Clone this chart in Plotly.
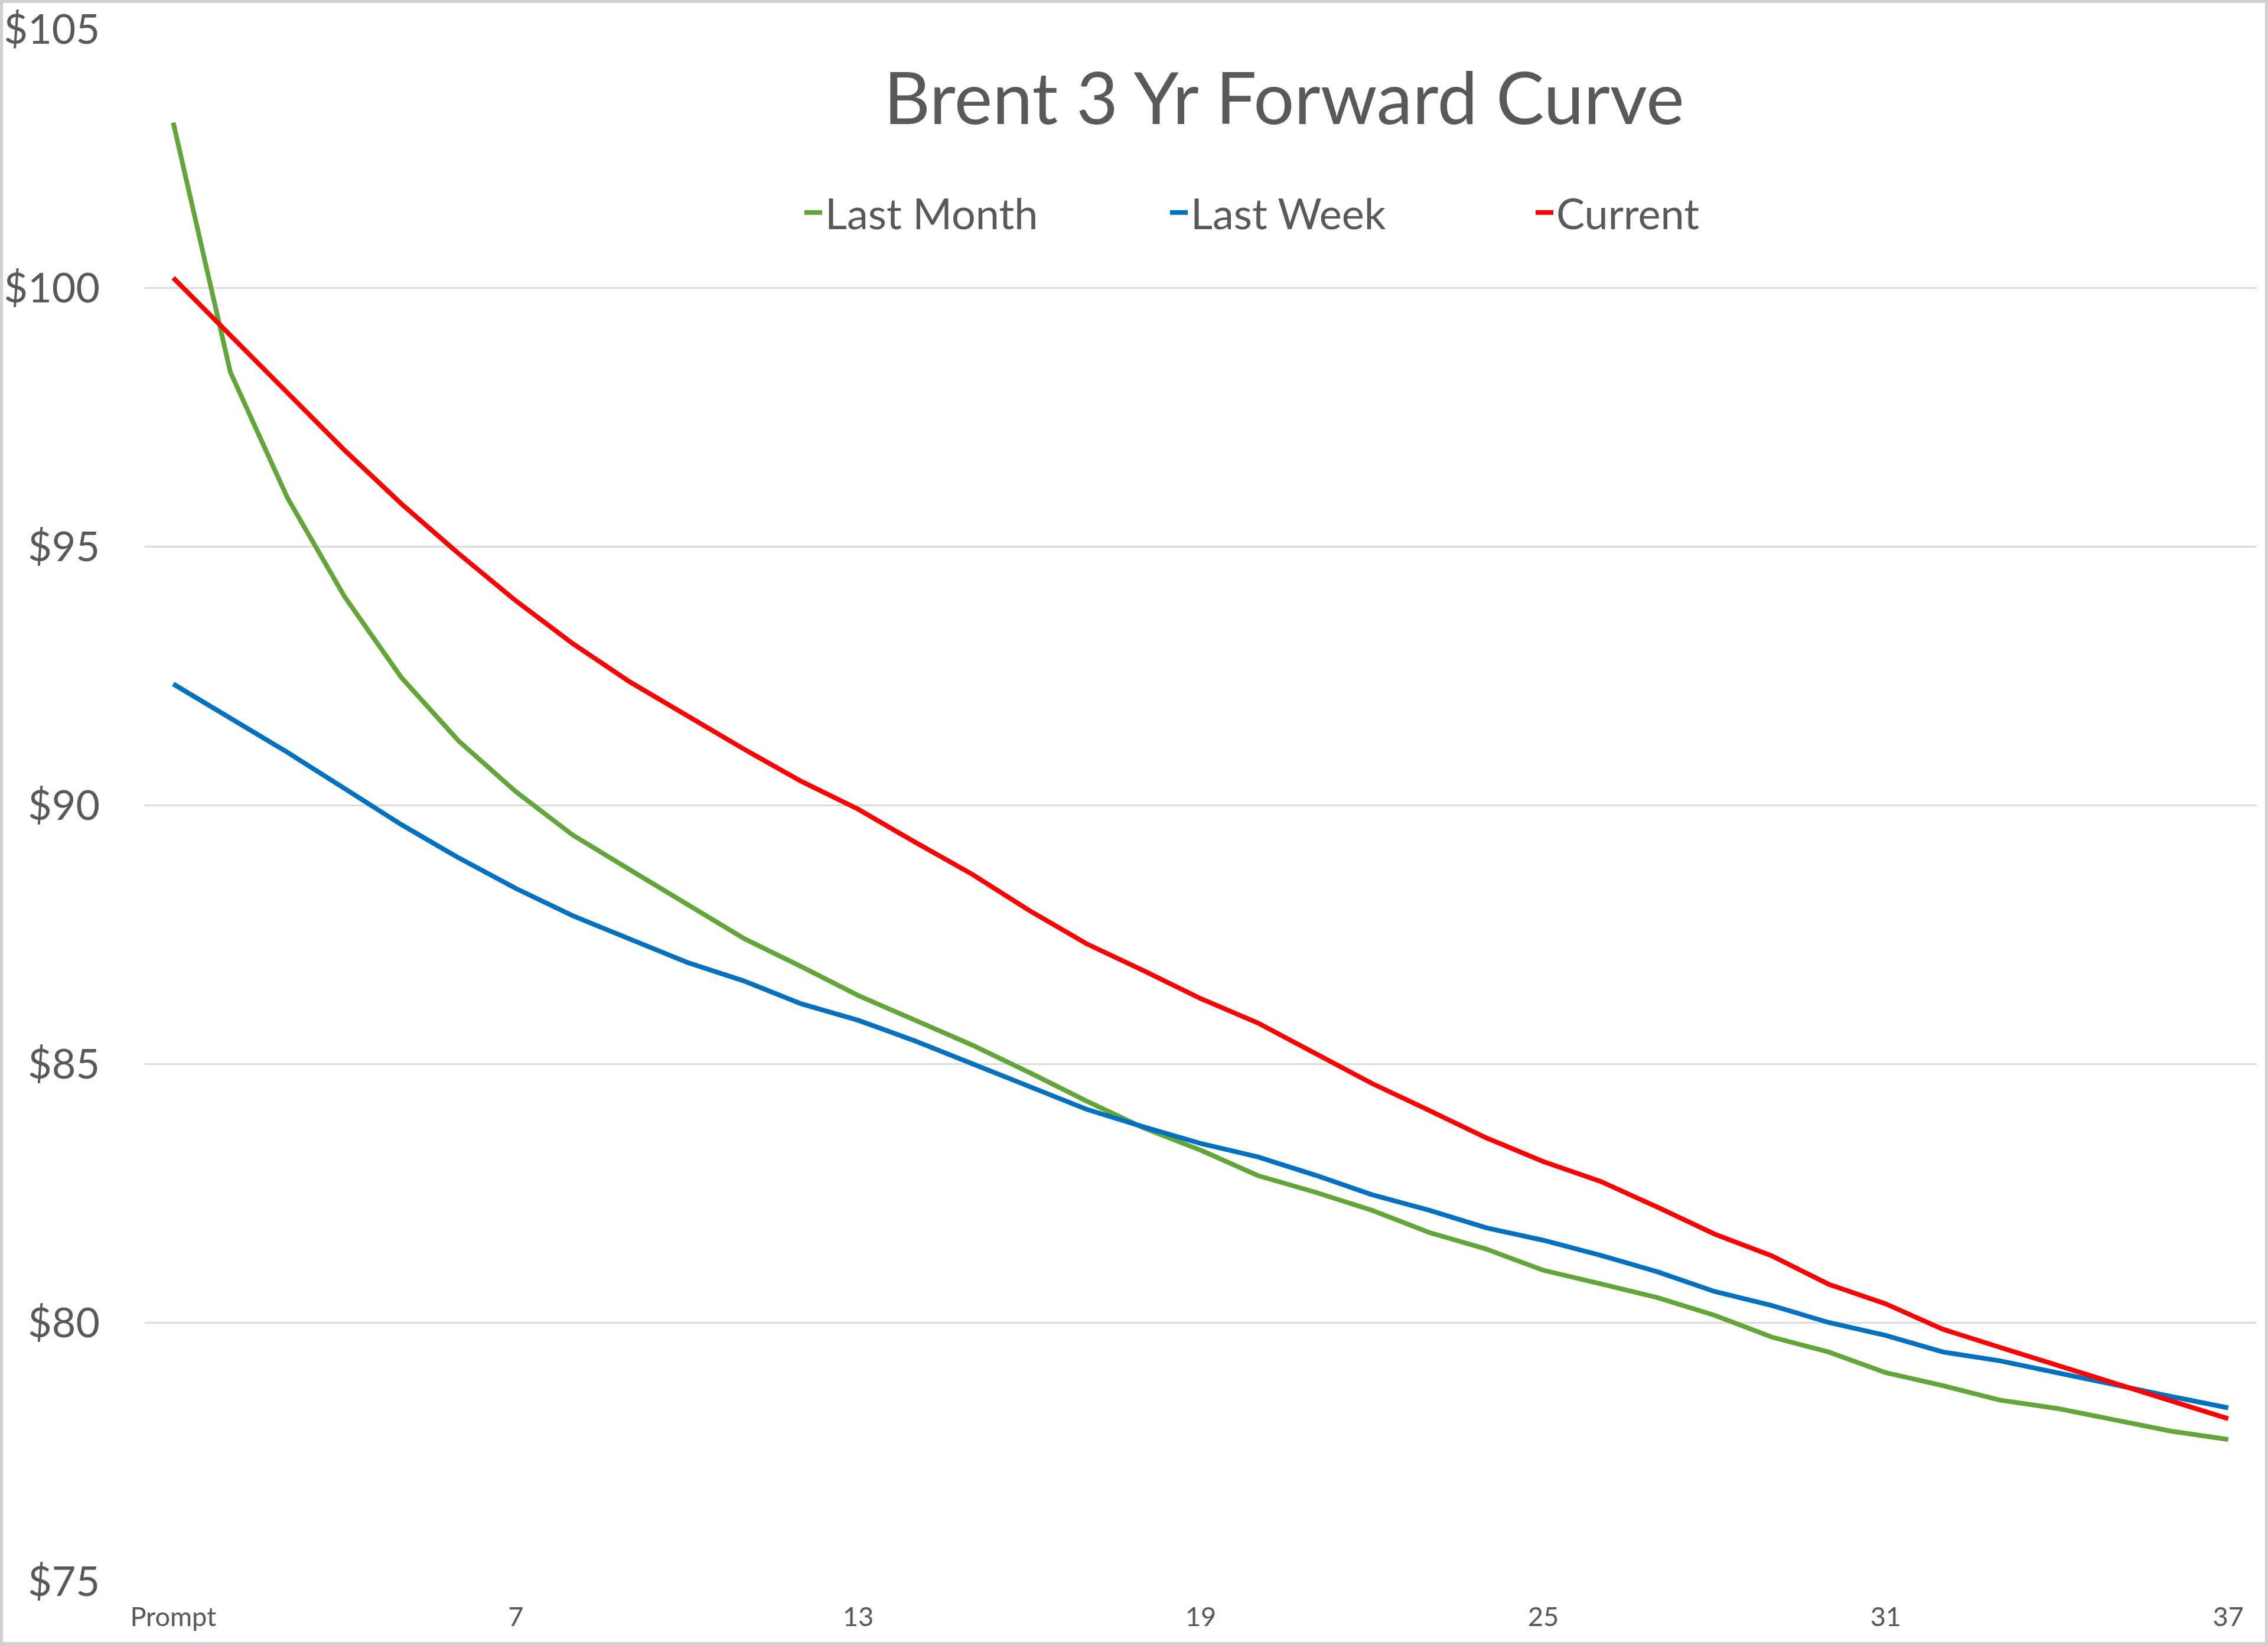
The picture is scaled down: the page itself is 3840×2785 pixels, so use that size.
import plotly.graph_objects as go

# ---- data ----
months = list(range(1, 38))
tick_vals = [1, 7, 13, 19, 25, 31, 37]
tick_text = ["Prompt", "7", "13", "19", "25", "31", "37"]

last_month = [103.19, 98.37, 95.94, 94.03, 92.46, 91.24, 90.26, 89.42, 88.75, 88.08,
              87.42, 86.88, 86.32, 85.84, 85.36, 84.83, 84.28, 83.76, 83.33, 82.84,
              82.52, 82.17, 81.74, 81.42, 81.01, 80.75, 80.48, 80.14, 79.72, 79.43,
              79.03, 78.78, 78.50, 78.34, 78.11, 77.90, 77.74]
last_week = [92.34, 91.69, 91.02, 90.32, 89.62, 88.98, 88.39, 87.86, 87.40, 86.96,
             86.60, 86.16, 85.84, 85.44, 85.00, 84.56, 84.12, 83.78, 83.46, 83.20,
             82.85, 82.47, 82.17, 81.83, 81.59, 81.30, 80.98, 80.60, 80.33, 80.00,
             79.75, 79.43, 79.26, 79.03, 78.79, 78.57, 78.35]
current = [100.19, 99.09, 97.97, 96.86, 95.82, 94.86, 93.95, 93.12, 92.38, 91.72,
           91.08, 90.46, 89.92, 89.28, 88.66, 87.96, 87.32, 86.80, 86.26, 85.79,
           85.21, 84.62, 84.10, 83.57, 83.11, 82.73, 82.23, 81.71, 81.29, 80.74,
           80.36, 79.87, 79.52, 79.17, 78.83, 78.48, 78.14]

series = [("Last Month", last_month, "#62A539"),
          ("Last Week", last_week, "#0070C0"),
          ("Current", current, "#FF0000")]

FONT = "Lato, 'Open Sans', sans-serif"
GREY = "#595959"

W, H = 3840, 2785
ML, MR, MT, MB = 245, 19, 49, 108
PW, PH = W - ML - MR, H - MT - MB

fig = go.Figure()
for name, vals, color in series:
    fig.add_trace(go.Scatter(x=months, y=vals, name=name, mode="lines",
                             line=dict(color=color, width=8)))

fig.update_layout(
    width=W, height=H,
    margin=dict(l=ML, r=MR, t=MT, b=MB, pad=0, autoexpand=False),
    paper_bgcolor="white", plot_bgcolor="white",
    font=dict(family=FONT, color=GREY),
    title=dict(text="Brent 3 Yr Forward Curve", x=2174 / W, xref="container",
               xanchor="center", y=1 - 167 / H, yref="container", yanchor="middle",
               font=dict(family=FONT, size=122, color=GREY)),
    legend=dict(orientation="h", xref="container", yref="container",
                x=1357 / W, xanchor="left", y=1 - 360 / H, yanchor="middle",
                font=dict(family=FONT, size=72, color=GREY),
                entrywidth=574, entrywidthmode="pixels",
                bgcolor="rgba(0,0,0,0)"),
    showlegend=True,
    xaxis=dict(range=[0.5, 37.5], tickvals=tick_vals, ticktext=tick_text,
               showgrid=False, zeroline=False, showline=False, ticks="",
               tickfont=dict(family=FONT, size=45, color=GREY),
               ticklabelstandoff=30, fixedrange=True),
    yaxis=dict(range=[75, 105], tick0=75, dtick=5, tickprefix="$",
               showgrid=True, gridcolor="#DCDCDC", gridwidth=3,
               zeroline=False, showline=False, ticks="",
               tickfont=dict(family=FONT, size=70, color=GREY),
               ticklabelstandoff=75, fixedrange=True),
    shapes=[dict(type="rect", xref="paper", yref="paper",
                 x0=(-ML + 2.5) / PW, x1=(W - ML - 2.5) / PW,
                 y0=(-MB + 2.5) / PH, y1=1 + (MT - 2.5) / PH,
                 line=dict(color="#D0D0D0", width=5), fillcolor="rgba(0,0,0,0)",
                 layer="below")],
)

fig.write_html("out.html")
